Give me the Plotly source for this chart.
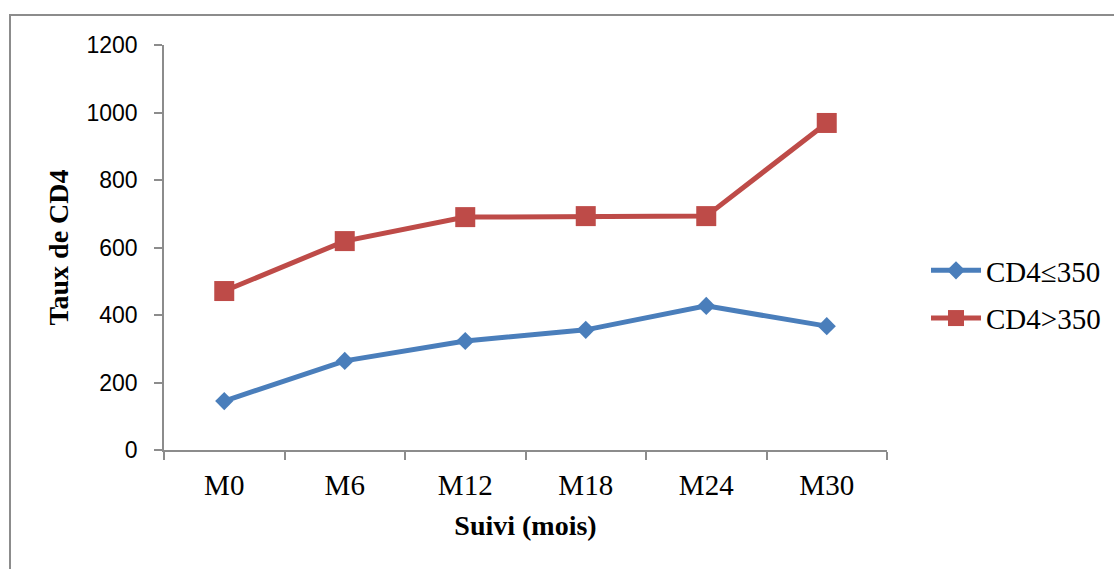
import plotly.graph_objects as go

categories = ["M0", "M6", "M12", "M18", "M24", "M30"]
cd4_low = [145, 264, 323, 356, 427, 367]
cd4_high = [471, 619, 690, 693, 693, 969]
y_ticks = [0, 200, 400, 600, 800, 1000, 1200]

W, H = 1114, 569
L, R, T, B = 164, 227, 45, 119

fig = go.Figure()
fig.add_trace(go.Scatter(
    x=categories, y=cd4_low, name="CD4≤350", mode="lines+markers",
    line=dict(color="#4A7EBB", width=5),
    marker=dict(symbol="diamond", size=14, color="#4A7EBB"),
    legendgroup="a",
))
fig.add_trace(go.Scatter(
    x=categories, y=cd4_high, name="CD4>350", mode="lines+markers",
    line=dict(color="#BE4B48", width=5),
    marker=dict(symbol="square", size=20, color="#BE4B48"),
    legendgroup="b",
))

pw = W - L - R
ph = H - T - B
fig.add_shape(type="rect", xref="paper", yref="paper",
              x0=(10 - L) / pw, x1=(W + 20 - L) / pw,
              y0=(H - B - (H + 20)) / ph, y1=(H - B - 15) / ph,
              line=dict(color="#8C8C8C", width=2), fillcolor="rgba(0,0,0,0)")

fig.update_layout(
    width=W, height=H,
    margin=dict(l=L, r=R, t=T, b=B, autoexpand=False),
    paper_bgcolor="white", plot_bgcolor="white",
    showlegend=True,
    legend=dict(x=(926 - L) / pw, y=(H - B - 245) / ph, xanchor="left", yanchor="top",
                font=dict(family="Liberation Serif", size=29, color="black"),
                traceorder="grouped", tracegroupgap=7,
                itemwidth=50, bgcolor="rgba(0,0,0,0)"),
    xaxis=dict(
        type="category", categoryorder="array", categoryarray=categories,
        range=[-0.5, 5.5],
        showline=True, linecolor="#8C8C8C", linewidth=1.5,
        ticks="outside", tickson="boundaries", ticklen=8, tickcolor="#8C8C8C", tickwidth=1.5,
        tickfont=dict(family="Liberation Serif", size=29, color="black"),
        ticklabelstandoff=8,
        showgrid=False, zeroline=False,
        title=dict(text="<b>Suivi (mois)</b>", font=dict(family="Liberation Serif", size=28, color="black"),
                   standoff=16),
    ),
    yaxis=dict(
        range=[0, 1200], tickvals=y_ticks,
        showline=True, linecolor="#8C8C8C", linewidth=1.5,
        ticks="outside", ticklen=8, tickcolor="#8C8C8C", tickwidth=1.5,
        tickfont=dict(family="Liberation Sans", size=23, color="black"),
        ticklabelstandoff=12,
        showgrid=False, zeroline=False,
        title=dict(text="<b>Taux de CD4</b>", font=dict(family="Liberation Serif", size=28, color="black"),
                   standoff=10),
    ),
)

fig.write_html("out.html", config={"displayModeBar": False},
               post_script="document.body.style.margin='0';")
